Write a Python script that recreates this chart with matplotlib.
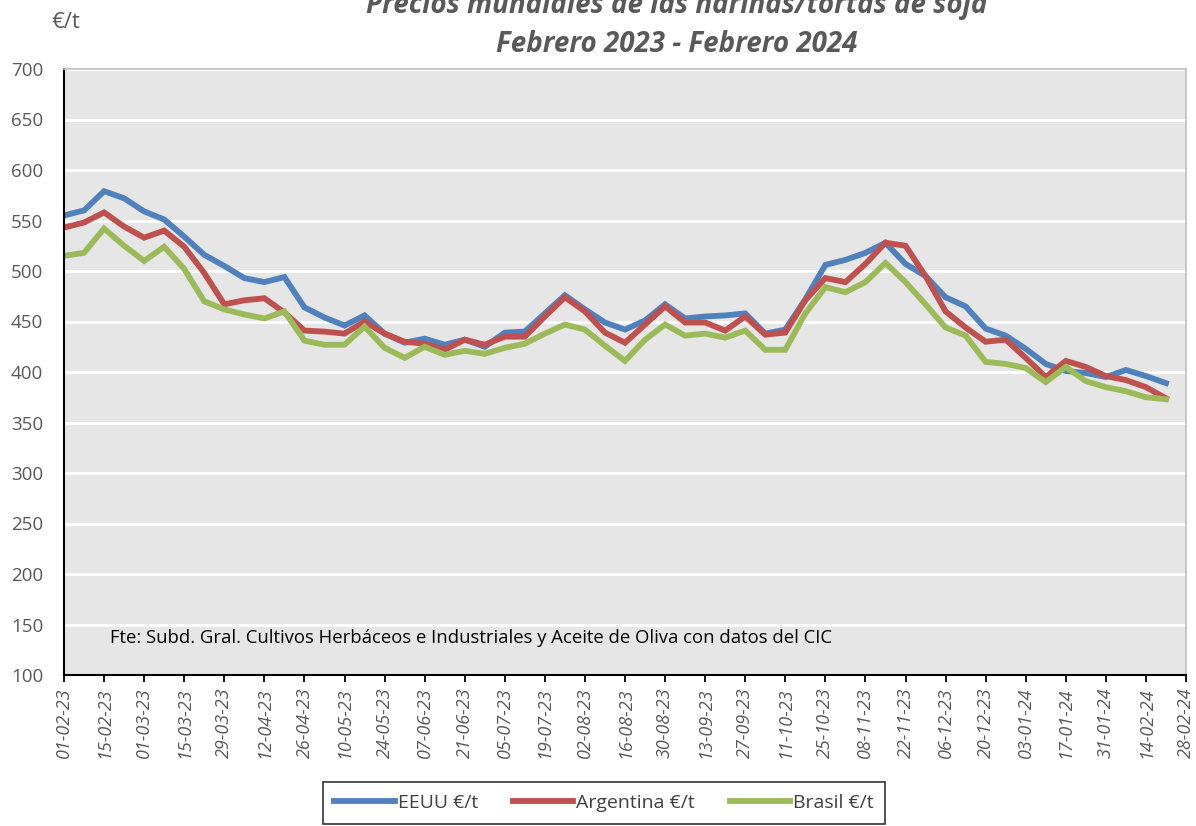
import matplotlib
matplotlib.use("Agg")
import matplotlib.pyplot as plt
import matplotlib.dates as mdates
import pandas as pd

# ---- data ----
start_date = "2023-02-01"
n_weeks = 56
eeuu = [555, 560, 579, 572, 559, 551, 534, 516, 505, 493,
        489, 494, 464, 454, 446, 456, 438, 429, 433, 427,
        432, 425, 439, 440, 458, 476, 462, 449, 442, 451,
        467, 453, 455, 456, 458, 438, 442, 472, 506, 511,
        518, 528, 507, 495, 474, 465, 443, 436, 423, 408,
        401, 399, 395, 402, 396, 389]
argentina = [543, 548, 558, 544, 533, 540, 524, 498, 467, 471,
             473, 459, 441, 440, 438, 450, 438, 430, 428, 422,
             432, 427, 435, 435, 455, 474, 460, 439, 429, 447,
             465, 449, 449, 441, 455, 437, 439, 471, 493, 489,
             507, 528, 525, 495, 460, 444, 430, 432, 414, 395,
             411, 405, 396, 392, 385, 374]
brasil = [515, 518, 542, 525, 510, 524, 502, 470, 462, 457,
          453, 460, 431, 427, 427, 445, 424, 414, 425, 417,
          421, 418, 424, 428, 438, 447, 442, 426, 411, 432,
          447, 436, 438, 434, 441, 422, 422, 458, 484, 479,
          489, 508, 489, 467, 444, 436, 410, 408, 404, 390,
          405, 391, 385, 381, 375, 373]
series_names = ["EEUU €/t", "Argentina €/t", "Brasil €/t"]
series_colors = ["#4F81BD", "#C0504D", "#9BBB59"]
tick_start = "2023-02-01"
tick_end = "2024-02-28"
y_ticks = [100, 150, 200, 250, 300, 350, 400, 450, 500, 550, 600, 650, 700]
title_lines = ["Precios mundiales de las harinas/tortas de soja",
               "Febrero 2023 - Febrero 2024"]
source_text = "Fte: Subd. Gral. Cultivos Herbáceos e Industriales y Aceite de Oliva con datos del CIC"

dates = pd.date_range(start_date, periods=n_weeks, freq="7D")
tick_dates = pd.date_range(tick_start, tick_end, freq="14D")

plt.rcParams['font.family'] = ['Open Sans', 'DejaVu Sans']

fig = plt.figure(figsize=(11.96, 8.26), dpi=100)
ax = fig.add_axes([64/1196, 1-675/826, (1186-64)/1196, (675-69)/826])
ax.set_facecolor("#E6E6E6")

for vals, name, col in zip([eeuu, argentina, brasil], series_names, series_colors):
    ax.plot(dates, vals, color=col, lw=4.2, label=name, solid_joinstyle='miter')

ax.set_ylim(100, 700)
ax.set_yticks(y_ticks)
ax.yaxis.grid(True, color="white", lw=2.2)
ax.set_axisbelow(True)
ax.tick_params(axis='y', length=0, labelsize=13.5, pad=15)
for lab in ax.get_yticklabels():
    lab.set_color("#595959")

ax.set_xlim(tick_dates[0], tick_dates[-1])
ax.set_xticks(tick_dates)
ax.xaxis.set_major_formatter(mdates.DateFormatter("%d-%m-%y"))
ax.tick_params(axis='x', length=5, width=1.3, direction='out', labelsize=13,
               labelcolor="#595959", pad=4)
for lab in ax.get_xticklabels():
    lab.set_rotation(90)
    lab.set_fontstyle('italic')

for s in ['left', 'bottom']:
    ax.spines[s].set_color('black')
    ax.spines[s].set_linewidth(1.5)
for s in ['top', 'right']:
    ax.spines[s].set_color('#BFBFBF')
    ax.spines[s].set_linewidth(1.2)

ax.text(0.041, 0.061, source_text, transform=ax.transAxes,
        fontsize=13.3, color='black', va='center', ha='left')

fig.text(677/1196, 1-6/826, title_lines[0], ha='center', va='center',
         fontsize=20, fontweight='bold', fontstyle='italic', color='#595959')
fig.text(677/1196, 1-44/826, title_lines[1], ha='center', va='center',
         fontsize=20, fontweight='bold', fontstyle='italic', color='#595959')
fig.text(66/1196, 1-22/826, "€/t", ha='center', va='center',
         fontsize=16, color='#595959')

leg = fig.legend(loc='center', bbox_to_anchor=(604/1196, 1-803/826), ncol=3,
                 frameon=True, fancybox=False, fontsize=14, handlelength=3.1,
                 handletextpad=0.15, columnspacing=1.8, borderpad=0.6)
leg.get_frame().set_edgecolor('black')
leg.get_frame().set_linewidth(1.2)
for t in leg.get_texts():
    t.set_color('#404040')

fig.savefig("out.png", dpi=100)
